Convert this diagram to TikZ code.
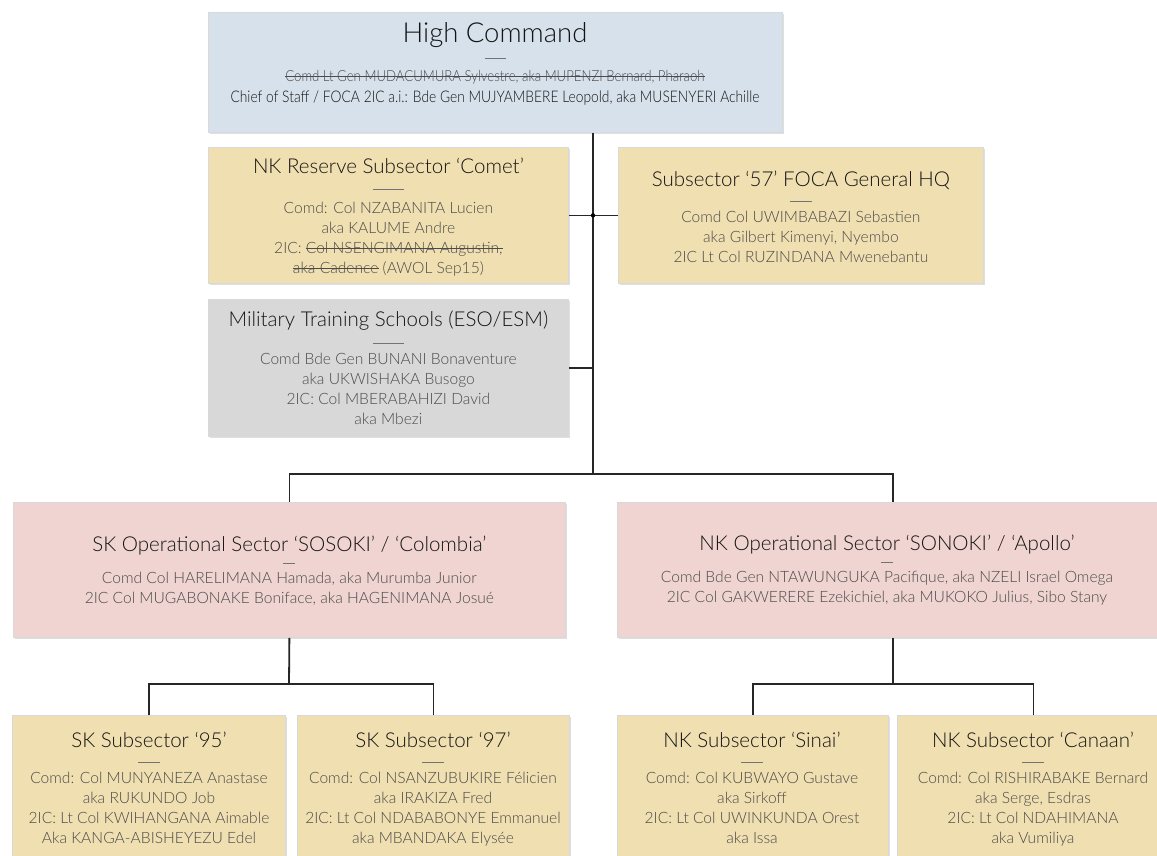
\documentclass[tikz,border=0pt]{standalone}
\usepackage{fontspec}
\setmainfont{Lato Light}
\usetikzlibrary{shadows}
\definecolor{hcblue}{RGB}{215,225,235}
\definecolor{tan}{RGB}{240,223,176}
\definecolor{greybox}{RGB}{216,216,216}
\definecolor{pinkbox}{RGB}{239,212,209}
\definecolor{bodytext}{RGB}{75,75,75}
\newsavebox\stbox
\newcommand\stk[1]{\sbox\stbox{#1}\leavevmode\rlap{\usebox\stbox}\rule[0.3em]{\wd\stbox}{0.7pt}}
\newcommand\sepl[1]{{\color{black!55}\rule[0.3em]{#1}{0.7pt}}}
\newcommand\ttl[1]{{\fontsize{20.5}{24}\selectfont\color{black!92}#1}}
\tikzset{
  box/.style={draw=black!15, line width=0.8pt, anchor=north west, inner sep=0pt,
    drop shadow={shadow xshift=1.2pt, shadow yshift=-1.5pt, opacity=0.25}},
  txt/.style={align=center, text=bodytext, inner sep=0pt, font=\fontsize{15.6}{20}\selectfont},
  conn/.style={draw=black!85, line width=1.8pt},
}
\begin{document}
\begin{tikzpicture}[x=1pt,y=-1pt]
\clip (0,0) rectangle (1157,856);
\fill[white] (0,0) rectangle (1157,856);

% boxes
\node[box, fill=hcblue, minimum width=574, minimum height=120] (hc) at (208,12) {};
\node[box, fill=tan, minimum width=360, minimum height=136] (comet) at (208,147) {};
\node[box, fill=tan, minimum width=365, minimum height=136] (s57) at (618,147) {};
\node[box, fill=greybox, minimum width=360, minimum height=137] (mts) at (208,299) {};
\node[box, fill=pinkbox, minimum width=552, minimum height=135] (skop) at (13,502) {};
\node[box, fill=pinkbox, minimum width=552, minimum height=135] (nkop) at (617,502) {};
\node[box, fill=tan, minimum width=273, minimum height=170] (sk95) at (12,715) {};
\node[box, fill=tan, minimum width=272, minimum height=170] (sk97) at (297,715) {};
\node[box, fill=tan, minimum width=271, minimum height=170] (sinai) at (617,715) {};
\node[box, fill=tan, minimum width=272, minimum height=170] (canaan) at (897,715) {};

% texts
\node[txt, font=\fontsize{16}{24}\selectfont\addfontfeature{FakeStretch=0.8625}] (hct) at (495,64) {{\fontsize{27.5}{28}\selectfont\addfontfeature{FakeStretch=1}\color{black!92}High Command}\\[-3pt]
  \sepl{21pt}\\[-6pt]
  {\fontsize{15.3}{24}\selectfont\stk{Comd Lt Gen MUDACUMURA Sylvestre, aka MUPENZI Bernard, Pharaoh}}\\[-3pt]
  {\color{black!92}Chief of Staff / FOCA 2IC a.i.: Bde Gen MUJYAMBERE Leopold, aka MUSENYERI Achille}};
\node[txt] (comett) at ([yshift=-2pt]comet.center) {\ttl{NK Reserve Subsector ‘Comet’}\\[1pt]
  \sepl{31pt}\\[-1pt]
  Comd: Col NZABANITA Lucien\\
  aka KALUME Andre\\
  2IC: \stk{Col NSENGIMANA Augustin,}\\
  \stk{aka Cadence} (AWOL Sep15)};
\node[txt] (s57t) at ([yshift=-1pt]s57.center) {\ttl{Subsector ‘57’ FOCA General HQ}\\[0pt]
  \sepl{22pt}\\[-4pt]
  Comd Col UWIMBABAZI Sebastien\\
  aka Gilbert Kimenyi, Nyembo\\
  2IC Lt Col RUZINDANA Mwenebantu};
\node[txt] (mtst) at (mts.center) {\ttl{Military Training Schools (ESO/ESM)}\\[2pt]
  \sepl{31pt}\\[-4pt]
  Comd Bde Gen BUNANI Bonaventure\\
  aka UKWISHAKA Busogo\\
  2IC: Col MBERABAHIZI David\\
  aka Mbezi};
\node[txt] (skopt) at ([yshift=-1pt]skop.center) {\ttl{SK Operational Sector ‘SOSOKI’ / ‘Colombia’}\\[-3pt]
  \sepl{12pt}\\[-5pt]
  Comd Col HARELIMANA Hamada, aka Murumba Junior\\
  2IC Col MUGABONAKE Boniface, aka HAGENIMANA Josué};
\node[txt] (nkopt) at ([yshift=-1pt]887,569) {\ttl{NK Operational Sector ‘SONOKI’ / ‘Apollo’}\\[-3pt]
  \sepl{12pt}\\[-5pt]
  Comd Bde Gen NTAWUNGUKA Pacifique, aka NZELI Israel Omega\\
  2IC Col GAKWERERE Ezekichiel, aka MUKOKO Julius, Sibo Stany};
\node[txt, anchor=north] (sk95t) at (149,732) {\ttl{SK Subsector ‘95’}\\[0pt]
  \sepl{22pt}\\[-4pt]
  Comd: Col MUNYANEZA Anastase\\
  aka RUKUNDO Job\\
  2IC: Lt Col KWIHANGANA Aimable\\
  Aka KANGA-ABISHEYEZU Edel};
\node[txt, anchor=north] (sk97t) at (433,732) {\ttl{SK Subsector ‘97’}\\[0pt]
  \sepl{22pt}\\[-4pt]
  Comd: Col NSANZUBUKIRE Félicien\\
  aka IRAKIZA Fred\\
  2IC: Lt Col NDABABONYE Emmanuel\\
  aka MBANDAKA Elysée};
\node[txt, anchor=north] (sinait) at (752,732) {\ttl{NK Subsector ‘Sinai’}\\[0pt]
  \sepl{22pt}\\[-4pt]
  Comd: Col KUBWAYO Gustave\\
  aka Sirkoff\\
  2IC: Lt Col UWINKUNDA Orest\\
  aka Issa};
\node[txt, anchor=north] (canaant) at (1033,732) {\ttl{NK Subsector ‘Canaan’}\\[0pt]
  \sepl{22pt}\\[-4pt]
  Comd: Col RISHIRABAKE Bernard\\
  aka Serge, Esdras\\
  2IC: Lt Col NDAHIMANA\\
  aka Vumiliya};

% connectors
\coordinate (spine) at (593,474);
\coordinate (skbar) at (289,684);
\coordinate (nkbar) at (893,684);
\draw[conn] (hc.south -| spine) -- (spine);
\draw[conn] (comet.east) -- (s57.west);
\draw[conn] (mts.east) -- (mts.east -| spine);
\draw[conn] (skop.north) |- (spine) -| (nkop.north -| nkbar);
\draw[conn] (skop.south) -- (skbar);
\draw[conn] (sk95.north) |- (skbar) -| (sk97.north);
\draw[conn] (nkop.south -| nkbar) -- (nkbar);
\draw[conn] (sinai.north) |- (nkbar) -| (canaan.north);
\fill[black] (comet.east -| spine) circle (2.2);
\end{tikzpicture}
\end{document}
